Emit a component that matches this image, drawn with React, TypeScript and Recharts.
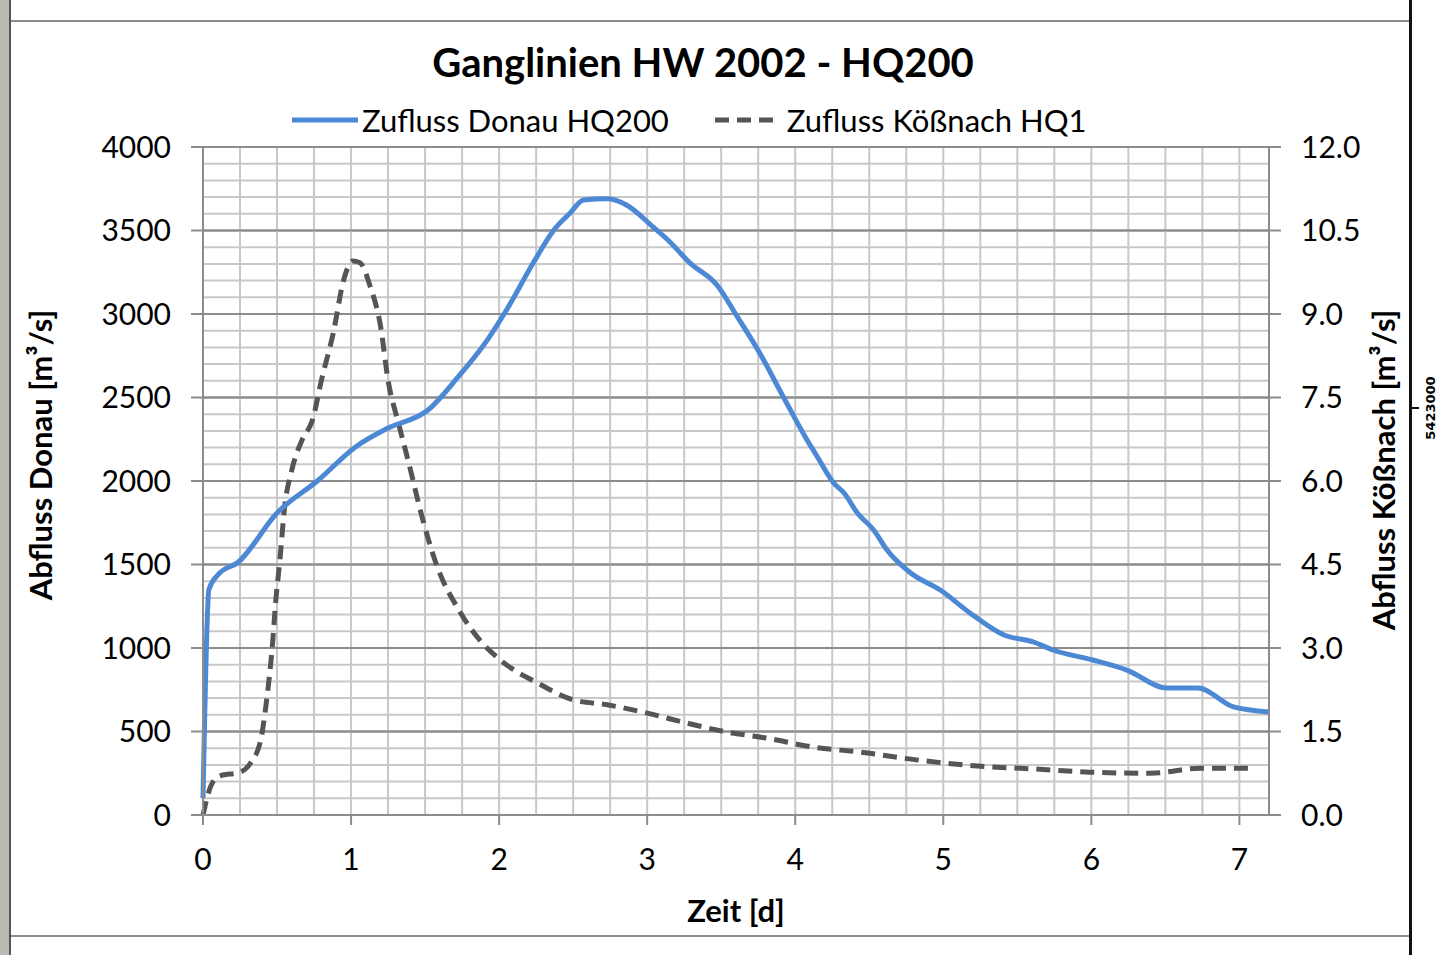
import { LineChart, Line, XAxis, YAxis, CartesianGrid, ReferenceLine } from "recharts";

// Zufluss Donau HQ200 (left axis, m³/s)
const donauDays = [
  0, 0.04, 0.1, 0.24, 0.5, 0.78, 1.03, 1.25, 1.52, 1.72, 1.92, 2.05, 2.23, 2.37, 2.48, 2.57,
  2.73, 2.86, 3.04, 3.14, 3.29, 3.47, 3.61, 3.76, 3.92, 4.08, 4.15, 4.26, 4.33, 4.42, 4.53,
  4.62, 4.78, 4.98, 5.18, 5.41, 5.61, 5.74, 6.01, 6.24, 6.51, 6.72, 6.96, 7.2,
];
const donauFlow = [
  100, 1350, 1437, 1515, 1808, 2006, 2204, 2317, 2425, 2620, 2844, 3024, 3305, 3503, 3605, 3683,
  3690, 3653, 3521, 3443, 3305, 3175, 2982, 2766, 2503, 2245, 2144, 1988, 1928, 1808, 1707,
  1587, 1449, 1347, 1210, 1078, 1036, 988, 928, 868, 760, 760, 647, 617,
];

// Zufluss Kößnach HQ1 (right axis, m³/s)
const koessDays = [
  0, 0.05, 0.11, 0.25, 0.32, 0.39, 0.43, 0.47, 0.49, 0.52, 0.55, 0.6, 0.67, 0.74, 0.8, 0.88,
  0.95, 1.01, 1.06, 1.13, 1.2, 1.25, 1.32, 1.39, 1.48, 1.57, 1.74, 1.87, 2.01, 2.26, 2.5, 2.73,
  3.0, 3.27, 3.54, 3.81, 4.12, 4.44, 4.82, 5.23, 5.59, 5.99, 6.4, 6.74, 7.1,
];
const koessFlow = [
  0, 0.5, 0.7, 0.77, 0.93, 1.35, 2.07, 3.09, 3.8, 4.6, 5.5, 6.2, 6.74, 7.1, 7.81, 8.66,
  9.61, 9.95, 9.92, 9.49, 8.77, 7.81, 7.04, 6.32, 5.35, 4.55, 3.63, 3.14, 2.78, 2.37, 2.07, 1.98,
  1.83, 1.65, 1.49, 1.38, 1.22, 1.13, 0.99, 0.88, 0.83, 0.77, 0.75, 0.84, 0.84,
];

const dayTicks = [0, 1, 2, 3, 4, 5, 6, 7];
const leftTicks = [0, 500, 1000, 1500, 2000, 2500, 3000, 3500, 4000];
const rightTicks = [0, 1.5, 3, 4.5, 6, 7.5, 9, 10.5, 12];
// minor grid: every 0.25 d and every 100 m³/s
const gridDays = Array.from({ length: 29 }, (_, i) => i * 0.25);
const gridFlow = Array.from({ length: 41 }, (_, i) => i * 100);

const donauData = donauDays.map((d, i) => ({ d, v: donauFlow[i] }));
const koessData = koessDays.map((d, i) => ({ d, q: koessFlow[i] }));

const BLUE = "#4d88d5";
const DARK = "#555555";
const MINOR = "#c8c8c8";
const MAJOR = "#8c8c8c";
const font = "Lato, 'Open Sans', sans-serif";
const tickStyle = { fontSize: 30, fill: "#000", fontFamily: font };

export default function App() {
  return (
    <div style={{ position: "absolute", left: 0, top: 0, width: 1439, height: 955, background: "#fff", fontFamily: font }}>
      {/* page frame */}
      <div style={{ position: "absolute", left: 0, top: 0, width: 9, height: 955, background: "#b9bcb4", borderRight: "2px solid #555" }} />
      <div style={{ position: "absolute", left: 11, top: 20, width: 1400, height: 2, background: MAJOR }} />
      <div style={{ position: "absolute", left: 11, top: 935, width: 1400, height: 2, background: MAJOR }} />
      <div style={{ position: "absolute", left: 1409, top: 0, width: 3, height: 955, background: "#111" }} />
      <div style={{ position: "absolute", left: 1412, top: 407, width: 7, height: 2, background: "#111" }} />
      <div style={{ position: "absolute", left: 1430, top: 408, transform: "translate(-50%, -50%) rotate(-90deg)", fontSize: 13, fontWeight: 700, whiteSpace: "nowrap", fontFamily: "'DejaVu Sans', sans-serif" }}>
        5423000
      </div>

      <div style={{ position: "absolute", left: 703, top: 62, transform: "translate(-50%, -50%)", fontSize: 40, fontWeight: 700, whiteSpace: "nowrap" }}>
        Ganglinien HW 2002 - HQ200
      </div>

      {/* legend */}
      <div style={{ position: "absolute", left: 290, top: 100, height: 40, display: "flex", alignItems: "center", fontSize: 31, whiteSpace: "nowrap" }}>
        <svg width={70} height={10}><line x1={2} y1={5} x2={68} y2={5} stroke={BLUE} strokeWidth={5} /></svg>
        <span style={{ marginLeft: 2 }}>Zufluss Donau HQ200</span>
        <svg width={66} height={10} style={{ marginLeft: 44 }}><line x1={2} y1={5} x2={64} y2={5} stroke={DARK} strokeWidth={5} strokeDasharray="14 8" /></svg>
        <span style={{ marginLeft: 8 }}>Zufluss Kößnach HQ1</span>
      </div>

      <div style={{ position: "absolute", left: 40, top: 455, transform: "translate(-50%, -50%) rotate(-90deg)", fontSize: 31, fontWeight: 700, whiteSpace: "nowrap" }}>
        Abfluss Donau [m³/s]
      </div>
      <div style={{ position: "absolute", left: 1383, top: 470, transform: "translate(-50%, -50%) rotate(-90deg)", fontSize: 31, fontWeight: 700, whiteSpace: "nowrap" }}>
        Abfluss Kößnach [m³/s]
      </div>
      <div style={{ position: "absolute", left: 736, top: 910, transform: "translate(-50%, -50%)", fontSize: 31, fontWeight: 700, whiteSpace: "nowrap" }}>
        Zeit [d]
      </div>

      <div style={{ position: "absolute", left: 0, top: 0 }}>
        <LineChart width={1439} height={955} margin={{ top: 147, right: 70, bottom: 80, left: 103 }}>
          {gridDays.map((d) => (
            <ReferenceLine key={`gx${d}`} xAxisId="x" yAxisId="left" x={d} stroke={MINOR} strokeWidth={2} />
          ))}
          {gridFlow.map((v) => (
            <ReferenceLine key={`gy${v}`} xAxisId="x" yAxisId="left" y={v} stroke={v % 500 === 0 ? MAJOR : MINOR} strokeWidth={2} />
          ))}
          <CartesianGrid xAxisId="x" yAxisId="left" vertical={false} stroke={MAJOR} strokeWidth={2} />
          <XAxis
            xAxisId="x"
            type="number"
            dataKey="d"
            domain={[0, 7.2]}
            ticks={dayTicks}
            height={60}
            tick={tickStyle}
            tickSize={10}
            tickMargin={24}
            axisLine={{ stroke: MAJOR, strokeWidth: 2 }}
            tickLine={{ stroke: MAJOR, strokeWidth: 2 }}
          />
          <YAxis
            yAxisId="left"
            type="number"
            domain={[0, 4000]}
            ticks={leftTicks}
            width={100}
            tick={tickStyle}
            tickSize={12}
            tickMargin={20}
            axisLine={{ stroke: MAJOR, strokeWidth: 2 }}
            tickLine={{ stroke: MAJOR, strokeWidth: 2 }}
          />
          <YAxis
            yAxisId="right"
            orientation="right"
            type="number"
            domain={[0, 12]}
            ticks={rightTicks}
            width={100}
            tick={tickStyle}
            tickFormatter={(v: number) => v.toFixed(1)}
            tickSize={12}
            tickMargin={20}
            axisLine={{ stroke: MAJOR, strokeWidth: 2 }}
            tickLine={{ stroke: MAJOR, strokeWidth: 2 }}
          />
          <Line
            xAxisId="x"
            yAxisId="right"
            data={koessData}
            dataKey="q"
            type="monotone"
            stroke={DARK}
            strokeWidth={5}
            strokeDasharray="14 8"
            dot={false}
            isAnimationActive={false}
          />
          <Line
            xAxisId="x"
            yAxisId="left"
            data={donauData}
            dataKey="v"
            type="monotone"
            stroke={BLUE}
            strokeWidth={5}
            dot={false}
            isAnimationActive={false}
          />
        </LineChart>
      </div>
    </div>
  );
}
